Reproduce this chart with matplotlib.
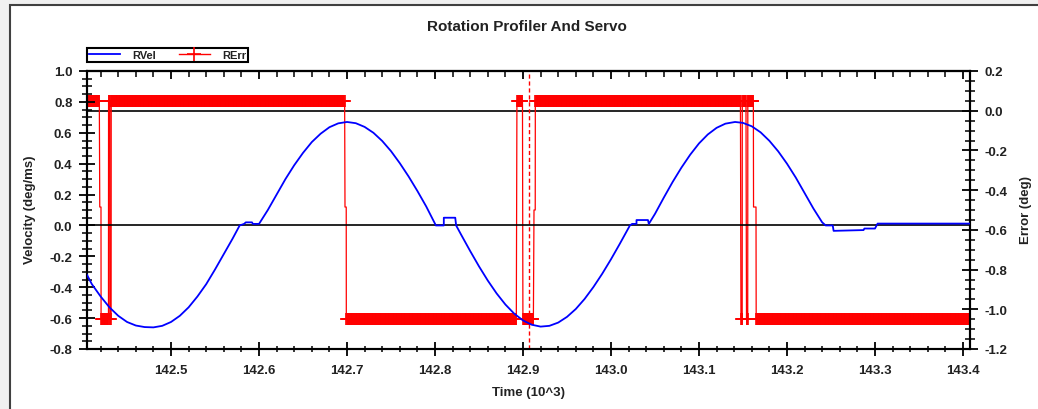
import numpy as np
import matplotlib
matplotlib.use('Agg')
import matplotlib.pyplot as plt
from matplotlib.ticker import MultipleLocator, FormatStrFormatter
from matplotlib.patches import Rectangle
from matplotlib.lines import Line2D

plt.rcParams['font.family'] = ['Liberation Sans', 'DejaVu Sans']
plt.rcParams['axes.unicode_minus'] = False

# RVel (deg/ms), time in 10^3 units
vel_t = [142.4045, 142.41, 142.42, 142.43, 142.44, 142.45, 142.46, 142.47, 142.48, 142.49,
         142.50, 142.51, 142.52, 142.53, 142.54, 142.55, 142.56, 142.57, 142.578,
         142.583, 142.585, 142.592, 142.593, 142.600,
         142.61, 142.62, 142.63, 142.64, 142.65, 142.66, 142.67, 142.68, 142.69, 142.70,
         142.71, 142.72, 142.73, 142.74, 142.75, 142.76, 142.77, 142.78, 142.79, 142.801,
         142.810, 142.810, 142.823, 142.824,
         142.83, 142.84, 142.85, 142.86, 142.87, 142.88, 142.89, 142.90, 142.91, 142.92,
         142.93, 142.94, 142.95, 142.96, 142.97, 142.98, 142.99, 143.00, 143.01, 143.0215,
         143.024, 143.029, 143.029, 143.042, 143.043,
         143.05, 143.06, 143.07, 143.08, 143.09, 143.10, 143.11, 143.12, 143.13, 143.141,
         143.15, 143.16, 143.17, 143.18, 143.19, 143.20, 143.21, 143.22, 143.23, 143.24,
         143.244, 143.252, 143.253, 143.287, 143.288, 143.300, 143.303, 143.408]
vel_v = [-0.32, -0.38, -0.46, -0.53, -0.585, -0.625, -0.648, -0.658, -0.66, -0.65,
         -0.625, -0.585, -0.53, -0.46, -0.38, -0.285, -0.185, -0.085, 0.0,
         0.01, 0.02, 0.02, 0.01, 0.01,
         0.10, 0.20, 0.30, 0.39, 0.47, 0.54, 0.594, 0.636, 0.661, 0.67,
         0.662, 0.638, 0.600, 0.547, 0.481, 0.403, 0.317, 0.223, 0.123, 0.0,
         0.0, 0.05, 0.05, 0.0,
         -0.063, -0.166, -0.265, -0.357, -0.44, -0.512, -0.571, -0.615, -0.643, -0.655,
         -0.65, -0.629, -0.592, -0.541, -0.476, -0.399, -0.313, -0.219, -0.119, 0.0,
         0.01, 0.01, 0.035, 0.035, 0.01,
         0.075, 0.18, 0.281, 0.374, 0.458, 0.531, 0.589, 0.632, 0.659, 0.67,
         0.664, 0.642, 0.603, 0.548, 0.48, 0.40, 0.31, 0.21, 0.11, 0.02,
         0.0, 0.0, -0.035, -0.03, -0.02, -0.02, 0.012, 0.012]

# RErr (deg): held levels, each starting at err_t
err_t = [142.4045, 142.4190, 142.4205, 142.4290, 142.4305, 142.4320,
         142.6977, 142.6992, 142.8931, 142.8999, 142.9125, 142.9140,
         143.1477, 143.1492, 143.1540, 143.1555, 143.1620, 143.1650]
err_v = [0.05, -0.485, -1.05, 0.05, -1.05, 0.05,
         -0.485, -1.05, 0.05, -1.05, -0.50, 0.05,
         -1.05, 0.05, -1.05, 0.05, -0.485, -1.05]
err_end = 143.408
sample_dt = 0.0007
cursor_t = 142.9068

# logged samples of the held levels; mid-level samples get no marker
ts, vs, mark = [], [], []
bounds = err_t + [err_end]
for i, v in enumerate(err_v):
    seg = np.arange(bounds[i], bounds[i + 1] - 1e-9, sample_dt)
    ts.extend(seg)
    vs.extend([v] * len(seg))
    mark.extend([not (-0.9 < v < 0.0)] * len(seg))

W, H = 1038, 410
fig = plt.figure(figsize=(W / 100, H / 100), dpi=100, facecolor='#f0f0f0')
fig.add_artist(Rectangle((10 / W, -0.05), 1.1, 1.05 - 6 / H, transform=fig.transFigure,
                         facecolor='white', edgecolor='#404040', lw=1.5, zorder=0))

ax1 = fig.add_axes([87 / W, 1 - 350 / H, (970 - 87) / W, (350 - 72) / H])
ax2 = ax1.twinx()
ax1.set_zorder(ax2.get_zorder() + 1)
ax1.patch.set_visible(False)

ax2.axhline(0.0, color='black', lw=1.2, zorder=1)
ax1.axhline(0.0, color='black', lw=1.2, zorder=1)
ax2.plot(ts, vs, color='red', lw=0.9, marker='+', ms=9, mew=1.2, markevery=mark, zorder=2)
ax2.axvline(cursor_t, color='red', lw=1.0, ls=(0, (3, 2)), zorder=2)
ax1.plot(vel_t, vel_v, color='blue', lw=1.3, zorder=3)

ax1.set_xlim(142.4045, 143.408)
ax1.set_ylim(-0.8, 1.0)
ax2.set_ylim(-1.2, 0.2)

ax1.xaxis.set_major_locator(MultipleLocator(0.1))
ax1.xaxis.set_minor_locator(MultipleLocator(0.02))
ax1.xaxis.set_major_formatter(FormatStrFormatter('%.1f'))
ax1.yaxis.set_major_locator(MultipleLocator(0.2))
ax1.yaxis.set_minor_locator(MultipleLocator(0.05))
ax1.yaxis.set_major_formatter(FormatStrFormatter('%.1f'))
ax2.yaxis.set_major_locator(MultipleLocator(0.2))
ax2.yaxis.set_minor_locator(MultipleLocator(0.05))
ax2.yaxis.set_major_formatter(FormatStrFormatter('%.1f'))

tick_font = dict(labelsize=9.5, labelcolor='#222222')
for ax in (ax1, ax2):
    ax.tick_params(which='major', direction='inout', length=11, width=1.3, pad=5, **tick_font)
    ax.tick_params(which='minor', direction='inout', length=7, width=1.1)
    for sp in ax.spines.values():
        sp.set_linewidth(1.5)
ax1.tick_params(axis='x', which='major', length=10, pad=6)
ax1.tick_params(axis='x', which='minor', length=5)
for lab in ax1.get_xticklabels() + ax1.get_yticklabels() + ax2.get_yticklabels():
    lab.set_fontweight('bold')

top = ax1.secondary_xaxis('top')
top.xaxis.set_major_locator(MultipleLocator(0.1))
top.xaxis.set_minor_locator(MultipleLocator(0.02))
top.tick_params(which='major', direction='in', length=6, width=1.3, labeltop=False)
top.tick_params(which='minor', direction='in', length=4, width=1.1)
top.spines['top'].set_linewidth(1.5)

lab_font = dict(fontsize=9.5, fontweight='bold', color='#222222')
fig.text(527 / W, 1 - 27 / H, 'Rotation Profiler And Servo', ha='center', va='center',
         fontsize=11, fontweight='bold', color='#222222')
fig.text(30 / W, 1 - 210 / H, 'Velocity (deg/ms)', rotation=90, ha='center', va='center', **lab_font)
fig.text(1026 / W, 1 - 210 / H, 'Error (deg)', rotation=90, ha='center', va='center', **lab_font)
fig.text(528 / W, 1 - 393 / H, 'Time (10^3)', ha='center', va='center', **lab_font)

handles = [Line2D([], [], color='blue', lw=1.3),
           Line2D([], [], color='red', lw=1, marker='+', ms=10, mew=1.2)]
leg = fig.legend(handles, ['RVel', 'RErr'], loc='lower left', ncol=2,
                 bbox_to_anchor=(87 / W, 1 - 63 / H), fontsize=8, numpoints=1,
                 borderpad=0.2, handlelength=2.8, handletextpad=1.1, columnspacing=2.0,
                 fancybox=False, framealpha=1, edgecolor='black', borderaxespad=0)
leg.get_frame().set_linewidth(1.5)
for t in leg.get_texts():
    t.set_fontweight('bold')
    t.set_color('#222222')

fig.savefig('out.png', dpi=100, facecolor=fig.get_facecolor())
